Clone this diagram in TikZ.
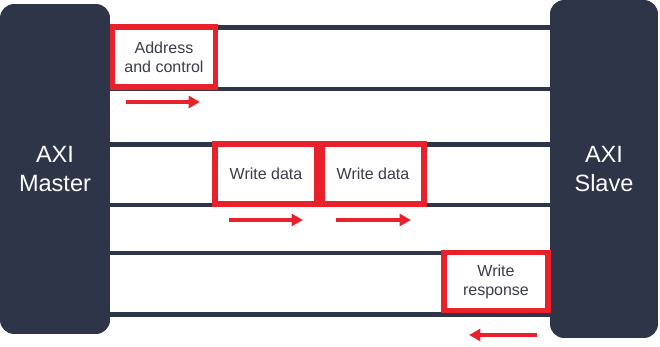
\documentclass[tikz,border=0pt]{standalone}
\usepackage{fontspec}
\setmainfont{Liberation Sans}
\usetikzlibrary{arrows.meta}
\definecolor{axinavy}{HTML}{2E3549}
\definecolor{axired}{HTML}{E8212B}
\definecolor{axitext}{HTML}{3A3D4A}
\tikzset{
	unit/.style = {fill=axinavy, rounded corners=0.28cm, text=white, align=center,
		font=\fontsize{13.4}{16.5}\selectfont},
	bus/.style = {axinavy, line width=2.6pt},
	beat/.style = {draw=axired, fill=white, line width=3pt, text=axitext, align=center,
		minimum height=1.2cm, font=\fontsize{9.1}{10.8}\selectfont},
	flow/.style = {axired, line width=1.9pt, -{Triangle[length=6.5pt,width=6.8pt]}}
}
\begin{document}
\begin{tikzpicture}[x=0.02cm, y=-0.02cm]
	\useasboundingbox (0,0) rectangle (660,347);
	\node[unit, minimum width=2.2cm, minimum height=6.6cm] (M) at (55,169) {AXI\\Master};
	\node[unit, minimum width=2.16cm, minimum height=6.76cm] (S) at (604,169) {AXI\\Slave};
	% channel wires
	\foreach \y in {27.5, 89, 144.5, 205, 253, 314.5}
	\draw[bus] (M.east |- 0,\y) -- (S.west |- 0,\y);
	% transfers
	\node[beat, minimum width=2.06cm] (AC) at (164,57) {Address\\and control};
	\node[beat, minimum width=2.04cm] (WD1) at (266,174) {Write data};
	\node[beat, minimum width=2.04cm] (WD2) at (373,174) {Write data};
	\node[beat, minimum width=2.08cm, minimum height=1.16cm] (WR) at (496,281.5) {Write\\response};
	% directions
	\foreach \n/\a/\b/\y in {1/126/200/102, 2/229/303/220, 3/336/411/220, 4/537/469/335}{
		\coordinate (f\n a) at (\a,\y);
		\coordinate (f\n b) at (\b,\y);
		\draw[flow] (f\n a) -- (f\n b);
	}
\end{tikzpicture}
\end{document}
